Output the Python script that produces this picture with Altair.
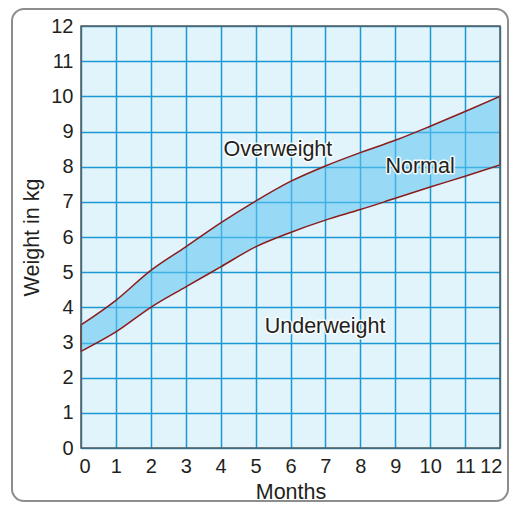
import altair as alt
import pandas as pd

months = list(range(0, 13))
upper_kg = [3.5, 4.2, 5.05, 5.72, 6.4, 7.02, 7.58, 8.02, 8.4, 8.75, 9.15, 9.57, 10.0]
lower_kg = [2.75, 3.3, 4.0, 4.58, 5.15, 5.72, 6.13, 6.48, 6.78, 7.1, 7.42, 7.73, 8.05]
weight_ticks = list(range(0, 13))

label_text = ["Overweight", "Normal", "Underweight"]
label_x = [5.64, 9.71, 6.99]
label_y = [8.47, 7.98, 3.43]

W, H = 419, 422
FONT = "Liberation Sans"
TXT = "#231f20"

band = pd.DataFrame({"month": months, "upper": upper_kg, "lower": lower_kg})
labels = pd.DataFrame({"text": label_text, "x": label_x, "y": label_y})
one = pd.DataFrame({"k": [0]})

xscale = alt.Scale(domain=[0, 12], nice=False)
yscale = alt.Scale(domain=[0, 12], nice=False)

xaxis = alt.Axis(values=months, title="Months", grid=True, ticks=False, domain=False,
                 labelFlush=True, labelFlushOffset=2, labelOverlap=False,
                 labelPadding=8, titlePadding=5)
yaxis = alt.Axis(values=weight_ticks, title="Weight in kg", grid=True, ticks=False,
                 domain=False, labelOverlap=False, labelPadding=8, titlePadding=7)

area = alt.Chart(band).mark_area(
    interpolate="monotone", color="#5cc4f0", fillOpacity=0.55,
    stroke="#8b1c1c", strokeWidth=1.5
).encode(
    x=alt.X("month:Q", scale=xscale, axis=xaxis),
    y=alt.Y("upper:Q", scale=yscale, axis=yaxis),
    y2="lower:Q",
)

halo = alt.Chart(labels).mark_text(
    font=FONT, fontSize=21.5, stroke="white", strokeWidth=3, strokeOpacity=0.85,
    fill="white", strokeJoin="round"
).encode(
    x=alt.X("x:Q", scale=xscale, axis=xaxis), y=alt.Y("y:Q", scale=yscale, axis=yaxis),
    text="text:N"
)
txt = alt.Chart(labels).mark_text(font=FONT, fontSize=21.5, color=TXT).encode(
    x=alt.X("x:Q", scale=xscale, axis=xaxis), y=alt.Y("y:Q", scale=yscale, axis=yaxis),
    text="text:N"
)

border = alt.Chart(one).mark_rect(fill=None, stroke="#58595b", strokeWidth=1.5).encode(
    x=alt.value(0), x2=alt.value(W), y=alt.value(0), y2=alt.value(H)
)

box = alt.Chart(one).mark_rect(
    fill=None, stroke="#8d8d8d", strokeWidth=2, cornerRadius=12
).encode(
    x=alt.value(-69), x2=alt.value(W + 8), y=alt.value(-17), y2=alt.value(H + 53)
)

chart = alt.layer(box, area, halo, txt, border).properties(
    width=W, height=H,
    autosize=alt.AutoSizeParams(type="none"),
    padding={"left": 73, "top": 18, "right": 9, "bottom": 55},
    background="white",
).configure_view(
    fill="#e1f3fb", stroke=None
).configure_axis(
    gridColor="#1b98d4", gridWidth=1.5, gridOpacity=1,
    labelFont=FONT, labelFontSize=20, labelColor=TXT,
    titleFont=FONT, titleFontSize=21.5, titleColor=TXT, titleFontWeight="normal",
)

chart.save("out.html", embed_options={"renderer": "svg", "actions": False})
